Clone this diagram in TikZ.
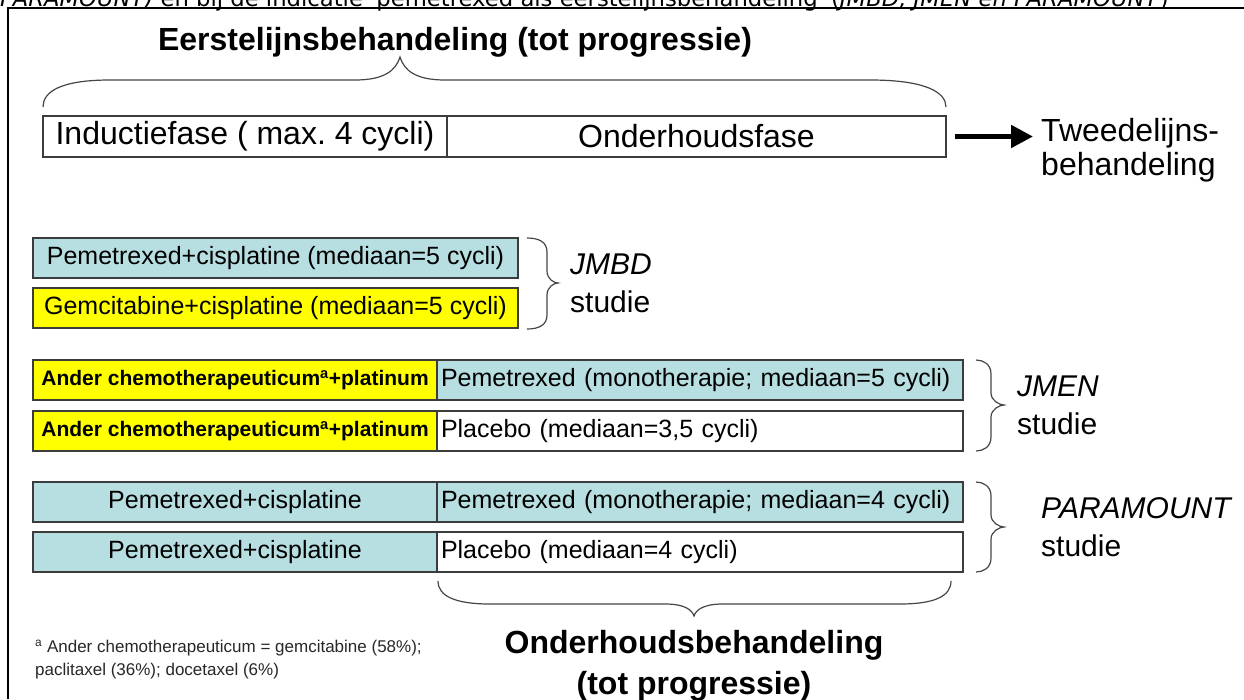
\documentclass[tikz,border=0pt]{standalone}
\usepackage{fontspec}
\setmainfont{Liberation Sans}
\newfontfamily\captionfont{DejaVu Sans}
\usetikzlibrary{arrows.meta}
\definecolor{aqua}{RGB}{183,222,224}
\definecolor{hiyellow}{RGB}{255,255,0}
\definecolor{boxline}{RGB}{60,60,60}
\definecolor{bracepen}{RGB}{70,70,70}
\definecolor{notegray}{RGB}{40,40,40}

% right-pointing brace: #1 end x, #2 spine x, #3 tip x, #4 top y, #5 tip y, #6 bottom y
\newcommand\studybrace[6]{%
  \draw[bracestroke] (#1,#4) .. controls (#2-8,#4) and (#2,#4+4) .. (#2,#4+14)
    -- (#2,#5-12) .. controls (#2,#5-4) and (#3-4,#5) .. (#3,#5)
    .. controls (#3-4,#5) and (#2,#5+4) .. (#2,#5+12)
    -- (#2,#6-14) .. controls (#2,#6-4) and (#2-8,#6) .. (#1,#6);}

\begin{document}
\begin{tikzpicture}[x=1pt,y=-1pt,
  cell/.style={draw=boxline, line width=1.3pt, minimum height=40pt,
    inner sep=0pt, outer sep=0pt, anchor=north west},
  lefttext/.style={align=left, inner xsep=4pt},
  f25/.style={font=\fontsize{25}{28}\selectfont},
  f32/.style={font=\fontsize{32}{36}\selectfont},
  heading/.style={font=\bfseries\fontsize{32}{41}\selectfont, inner sep=0pt, align=center},
  study/.style={font=\fontsize{30}{38}\selectfont, inner sep=0pt, align=left, anchor=west},
  chemo/.style={font=\bfseries\fontsize{21}{24}\selectfont},
  bracestroke/.style={draw=bracepen, line width=1.2pt},
  bigarrow/.style={line width=5pt, -{Triangle[length=22pt,width=22pt]}}
]
\useasboundingbox (0,0) rectangle (1244,699);
\fill[white] (0,0) rectangle (1244,699);

% caption line above the frame (only its lower part is on the page)
\node[anchor=base west, inner sep=0pt, font=\captionfont\fontsize{22.7}{26}\selectfont] (cap) at (0,6)
  {\textit{PARAMOUNT)} en bij de indicatie 'pemetrexed als eerstelijnsbehandeling' (\textit{JMBD, JMEN en PARAMOUNT})};

% frame
\draw[line width=2.2pt] (8,699) -- (8,8) -- (1244,8);

% first-line treatment
\node[heading] (title) at (455,42) {Eerstelijnsbehandeling (tot progressie)};
\draw[bracestroke] (43,107) .. controls (43,92) and (60,80) .. (110,80)
  -- (355,80) .. controls (385,80) and (396,70) .. (400,57)
  .. controls (404,70) and (415,80) .. (445,80)
  -- (870,80) .. controls (925,80) and (946,92) .. (946,107);
\node[cell, f32, minimum width=404pt, minimum height=41pt] (ind) at (43,116) {Inductiefase ( max.\ 4 cycli)};
\node[cell, f32, minimum width=499pt, minimum height=41pt] (ond) at (447,116) {Onderhoudsfase};
\node[font=\fontsize{32}{34}\selectfont, inner sep=0pt, align=left, anchor=west] (tweede) at (1041,150)
  {Tweedelijns-\\behandeling};
\draw[bigarrow, shorten <=9pt, shorten >=8pt] (ond.east) -- (ond.east -| tweede.west);

% JMBD
\node[cell, f25, fill=aqua, minimum width=485pt] (jmbdA) at (33,238) {Pemetrexed+cisplatine (mediaan=5 cycli)};
\node[cell, f25, fill=hiyellow, minimum width=485pt] (jmbdB) at (33,288) {Gemcitabine+cisplatine (mediaan=5 cycli)};
\studybrace{527}{547}{558}{238}{283}{329}
\node[study] (jmbd) at (570,283) {\textit{JMBD}\\studie};

% JMEN
\node[cell, chemo, fill=hiyellow, minimum width=404pt] (jmenA) at (33,360) {Ander chemotherapeuticum\textsuperscript{a}+platinum};
\node[cell, f25, lefttext, fill=aqua, text width=518pt] (jmenB) at (437,360) {Pemetrexed (monotherapie; mediaan=5 cycli)};
\node[cell, chemo, fill=hiyellow, minimum width=404pt] (jmenC) at (33,411) {Ander chemotherapeuticum\textsuperscript{a}+platinum};
\node[cell, f25, lefttext, fill=white, text width=518pt] (jmenD) at (437,411) {Placebo (mediaan=3,5 cycli)};
\studybrace{976}{991}{1004}{360}{405}{451}
\node[study] (jmen) at (1017,405) {\textit{JMEN}\\studie};

% PARAMOUNT
\node[cell, f25, fill=aqua, minimum width=404pt] (parA) at (33,482) {Pemetrexed+cisplatine};
\node[cell, f25, lefttext, fill=aqua, text width=518pt] (parB) at (437,482) {Pemetrexed (monotherapie; mediaan=4 cycli)};
\node[cell, f25, fill=aqua, minimum width=404pt] (parC) at (33,532) {Pemetrexed+cisplatine};
\node[cell, f25, lefttext, fill=white, text width=518pt] (parD) at (437,532) {Placebo (mediaan=4 cycli)};
\studybrace{976}{991}{1004}{482}{527}{572}
\node[study] (param) at (1041,527) {\textit{PARAMOUNT}\\studie};

% maintenance brace and label
\draw[bracestroke] (438,581) .. controls (438,596) and (455,604) .. (490,604)
  -- (665,604) .. controls (685,604) and (692,610) .. (694,616)
  .. controls (696,610) and (703,604) .. (723,604)
  -- (900,604) .. controls (935,604) and (951,596) .. (951,581);
\node[heading] (onderh) at (694,666) {Onderhoudsbehandeling\\(tot progressie)};

% footnote
\node[anchor=north west, align=left, inner sep=0pt, text=notegray,
  font=\fontsize{17}{23}\selectfont] (note) at (35,640)
  {\textsuperscript{a} Ander chemotherapeuticum = gemcitabine (58\%);\\paclitaxel (36\%); docetaxel (6\%)};
\end{tikzpicture}
\end{document}
